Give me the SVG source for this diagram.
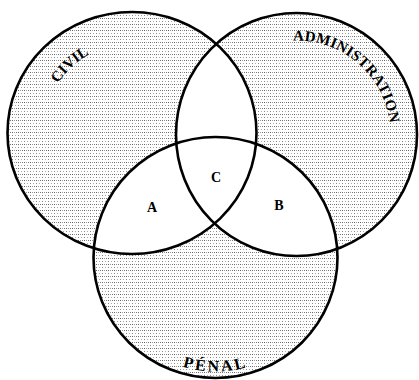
<svg xmlns="http://www.w3.org/2000/svg" xmlns:xlink="http://www.w3.org/1999/xlink" width="419" height="380" viewBox="0 0 419 380">
<style>
.fill{fill:url(#stip);stroke:none}
.white{fill:#fff;stroke:none}
.ring{fill:none;stroke:#000;stroke-width:2.6}
.lbl{font-family:"Liberation Serif","Times New Roman",serif;font-weight:bold;fill:#000}
</style>
<defs>
<pattern id="stip" width="6" height="6" patternUnits="userSpaceOnUse">
<rect width="6" height="6" fill="#fff"/>
<rect x="0" y="0" width="1" height="1" fill="#666"/>
<rect x="2" y="0" width="1" height="1" fill="#999"/>
<rect x="4" y="0" width="1" height="1" fill="#777"/>
<rect x="0" y="3" width="1" height="1" fill="#888"/>
<rect x="3" y="3" width="1" height="1" fill="#aaa"/>
</pattern>
<clipPath id="cCivil"><ellipse cx="132" cy="133" rx="124.5" ry="121"/></clipPath>
<clipPath id="cAdmin"><ellipse cx="296.5" cy="134.5" rx="120.5" ry="121.5"/></clipPath>
<path id="pAdmin" d="M 202.5 134.5 A 94 94 0 0 1 390.5 134.5"/>
<path id="pCivil" d="M 43 133 A 90 90 0 0 1 223 133"/>
<path id="pPenal" d="M 101.5 257.5 A 114 114 0 0 0 329.5 257.5"/>
</defs>
<g id="shading">
<ellipse class="fill" cx="132" cy="133" rx="124.5" ry="121"/>
<ellipse class="fill" cx="296.5" cy="134.5" rx="120.5" ry="121.5"/>
<ellipse class="fill" cx="215.5" cy="257.5" rx="122" ry="120.5"/>
<ellipse class="white" cx="296.5" cy="134.5" rx="120.5" ry="121.5" clip-path="url(#cCivil)"/>
<ellipse class="white" cx="215.5" cy="257.5" rx="122" ry="120.5" clip-path="url(#cCivil)"/>
<ellipse class="white" cx="215.5" cy="257.5" rx="122" ry="120.5" clip-path="url(#cAdmin)"/>
</g>
<g id="civil">
<ellipse class="ring" cx="132" cy="133" rx="124.5" ry="121"/>
<text class="lbl" font-size="15"><textPath xlink:href="#pCivil" href="#pCivil" startOffset="74" text-anchor="middle">CIVIL</textPath></text>
</g>
<g id="administration">
<ellipse class="ring" cx="296.5" cy="134.5" rx="120.5" ry="121.5"/>
<text class="lbl" font-size="15" letter-spacing="0.3"><textPath xlink:href="#pAdmin" href="#pAdmin" startOffset="144">ADMINISTRATION</textPath></text>
</g>
<g id="penal">
<ellipse class="ring" cx="215.5" cy="257.5" rx="122" ry="120.5"/>
<text class="lbl" font-size="16" letter-spacing="2.5"><textPath xlink:href="#pPenal" href="#pPenal" startOffset="50%" text-anchor="middle">PÉNAL</textPath></text>
</g>
<g id="regionA"><text class="lbl" font-size="14" x="152" y="212" text-anchor="middle">A</text></g>
<g id="regionB"><text class="lbl" font-size="14" x="279" y="210" text-anchor="middle">B</text></g>
<g id="regionC"><text class="lbl" font-size="14" x="216" y="182" text-anchor="middle">C</text></g>
<g id="connectors"/>
</svg>
